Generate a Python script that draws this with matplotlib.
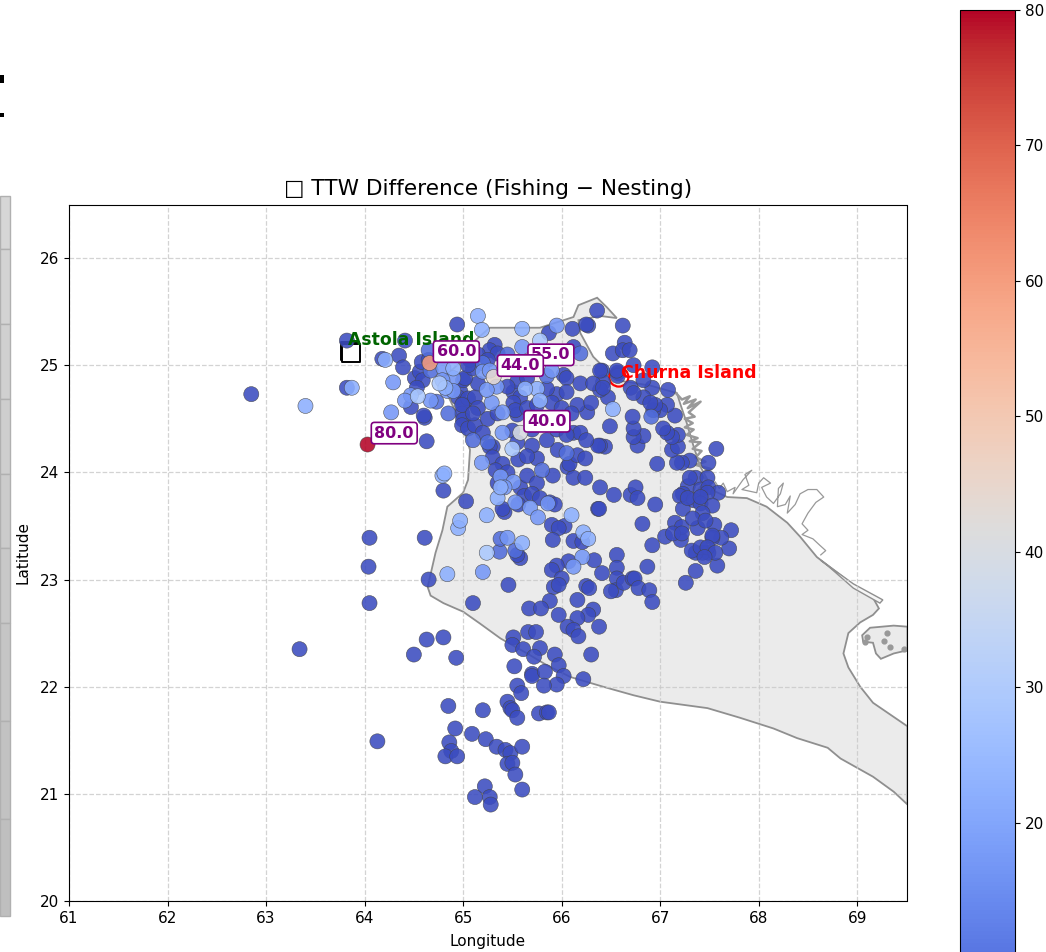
import numpy as np
import matplotlib
matplotlib.use("Agg")
import matplotlib.pyplot as plt
from matplotlib.patches import Polygon, Rectangle

# coastline (lon, lat)
coast = [(65.27,25.35),(65.78,25.35),(66.12,25.45),(66.17,25.56),(66.36,25.63),(66.46,25.54),(66.56,25.44),
         (66.39,25.46),(66.17,25.42),(66.19,25.30),(66.32,25.08),(66.56,24.86),(66.90,24.81),(67.17,24.74),
         (67.20,24.65),(67.27,24.46),(67.34,24.24),(67.41,24.05),(67.54,23.83),(67.68,23.77),(67.88,23.76),
         (68.08,23.68),(68.29,23.53),(68.42,23.40),(68.59,23.21),(68.76,23.09),(68.96,22.95),(69.16,22.83),
         (69.22,22.73),(69.16,22.67),(69.03,22.60),(68.91,22.50),(68.86,22.31),(68.91,22.18),(69.03,22.00),
         (69.16,21.85),(69.51,21.63),(69.51,20.90),(69.37,21.02),(69.16,21.16),(68.83,21.33),(68.70,21.43),
         (68.39,21.52),(68.15,21.61),(67.81,21.71),(67.48,21.80),(67.00,21.86),(66.73,21.92),(66.42,22.00),
         (66.09,22.09),(65.85,22.20),(65.65,22.31),(65.38,22.45),(65.17,22.59),(65.00,22.70),(64.80,22.78),
         (64.67,22.85),(64.64,22.93),(64.72,23.25),(64.79,23.46),(64.84,23.68),(65.00,23.81),(65.05,23.93),
         (65.07,24.21),(64.99,24.44),(64.87,24.67),(64.77,24.86),(65.00,25.05),(65.07,25.19)]
island = [(69.05,22.48),(69.13,22.55),(69.37,22.57),(69.51,22.56),(69.51,22.34),(69.37,22.31),(69.24,22.26),
          (69.19,22.31),(69.16,22.41),(69.06,22.42)]
island_spots = [(69.10,22.46),(69.08,22.42),(69.30,22.50),(69.27,22.43),(69.33,22.37),(69.47,22.35)]
lagoon = [(68.63,23.18),(68.96,22.96),(69.26,22.81),(69.23,22.78),(68.96,22.92),(68.70,23.13)]
creek_north = [(67.16,24.74),(67.22,24.68),(67.30,24.71),(67.24,24.64),(67.36,24.68),(67.28,24.60),(67.41,24.66),
               (67.29,24.56),(67.35,24.52),(67.25,24.50),(67.33,24.46),(67.25,24.42),(67.34,24.40),(67.27,24.35),
               (67.38,24.32),(67.30,24.29),(67.41,24.28),(67.33,24.22),(67.42,24.20),(67.36,24.14),(67.46,24.10),
               (67.36,24.07),(67.52,24.03),(67.41,23.99),(67.47,23.93),(67.38,23.83)]
creek_east = [(67.56,23.91),(67.60,23.85),(67.64,23.90),(67.68,23.82),(67.76,23.86),(67.74,23.80),(67.84,23.93),
              (67.93,24.02),(67.86,23.98),(67.90,23.88),(67.83,23.84),(67.98,23.81),(68.00,23.90),(68.05,23.95),
              (68.12,23.90),(68.03,23.86),(68.08,23.77),(68.15,23.71),(68.22,23.80),(68.25,23.90),(68.20,23.85),
              (68.19,23.68),(68.27,23.70),(68.32,23.78),(68.29,23.62),(68.37,23.70),(68.42,23.80),(68.50,23.84),
              (68.59,23.84),(68.66,23.77),(68.58,23.72),(68.50,23.62),(68.44,23.52),(68.50,23.46),(68.44,23.42),
              (68.55,23.38),(68.62,23.32),(68.68,23.27),(68.63,23.23)]

# TTW difference bands
diff_deep = 3
pts_deep = [(64.61,23.39),(65.03,23.73),(64.80,23.83),(64.65,23.00),(65.42,23.63),(65.40,23.66),(65.58,23.20),
            (65.55,23.23),(65.46,22.95),(65.10,22.78),(65.67,22.73),(65.51,22.46),(65.50,22.39),(65.66,22.51),
            (65.74,22.51),(65.61,22.35),(65.78,22.36),(65.72,22.28),(65.52,22.19),(65.70,22.12),(65.70,22.10),
            (65.83,22.14),(65.93,22.30),(65.97,22.20),(66.02,22.10),(65.95,22.02),(65.82,22.01),(66.22,22.07),
            (66.30,22.30),(65.55,22.01),(65.59,21.94),(64.85,21.82),(65.20,21.78),(65.45,21.86),(65.48,21.80),
            (65.50,21.78),(65.55,21.71),(65.77,21.75),(65.85,21.76),(65.87,21.76),(64.92,21.61),(65.09,21.56),
            (65.23,21.51),(65.34,21.44),(65.43,21.41),(65.48,21.38),(65.60,21.44),(64.86,21.48),(64.88,21.40),
            (64.82,21.35),(64.94,21.35),(65.45,21.28),(65.50,21.29),(65.53,21.18),(65.60,21.04),(65.22,21.07),
            (65.12,20.97),(65.27,20.97),(65.28,20.90),(64.63,22.44),(64.80,22.46),(64.50,22.30),(64.93,22.27),
            (63.34,22.35),(64.13,21.49),(64.05,23.39),(64.04,23.12),(64.05,22.78),(66.39,23.86),(66.53,23.79),
            (66.70,23.79),(66.75,23.86),(66.77,23.76),(66.95,23.70),(66.82,23.52),(66.37,23.66),(66.38,23.66),
            (65.90,23.51),(66.03,23.50),(65.97,23.48),(65.91,23.37),(66.12,23.36),(66.21,23.35),(66.92,23.32),
            (67.05,23.40),(66.33,23.18),(66.56,23.23),(66.07,23.17),(65.95,23.13),(65.90,23.09),(66.00,23.01),
            (65.92,22.93),(65.97,22.95),(66.41,23.06),(66.56,23.11),(66.56,23.01),(66.55,22.90),(66.50,22.89),
            (66.63,22.97),(66.72,23.01),(66.74,23.01),(66.78,22.92),(66.89,22.90),(66.92,22.79),(66.87,23.12),
            (67.26,22.97),(67.36,23.08),(66.25,22.94),(66.28,22.92),(66.16,22.81),(66.32,22.72),(66.27,22.67),
            (66.16,22.64),(66.38,22.56),(66.06,22.56),(66.12,22.53),(66.17,22.47),(65.97,22.67),(65.88,22.80),
            (65.79,22.73),(67.58,23.13),(67.70,23.29),(67.72,23.46),(67.55,23.51),(67.38,23.48),(67.62,23.39),
            (67.53,23.39),(67.53,23.41),(67.49,23.25),(67.43,23.25),(67.36,23.25),(67.32,23.27),(67.41,23.30),
            (67.48,23.30),(67.56,23.25),(67.45,23.21),(67.21,23.37),(67.15,23.53),(67.22,23.49),(67.13,23.43),
            (67.22,23.43),(67.36,23.95),(67.48,23.95),(67.28,23.87),(67.41,23.84),(67.49,23.86),(67.59,23.81),
            (67.23,23.80),(67.20,23.78),(67.34,23.74),(67.48,23.81),(67.41,23.71),(67.53,23.69),(67.23,23.66),
            (67.43,23.62),(67.33,23.57),(67.46,23.55),(67.28,23.76),(67.41,23.77),(67.30,23.95),(67.49,24.09),
            (67.57,24.22),(67.30,24.11),(67.22,24.09),(67.17,24.09),(66.97,24.08),(67.12,24.21),(67.18,24.24),
            (67.18,24.35),(67.12,24.33),(67.07,24.37),(67.03,24.41),(66.77,24.25),(66.83,24.34),(66.73,24.33),
            (66.73,24.41),(66.49,24.43),(66.44,24.24),(66.39,24.25),(66.72,24.52),(66.47,24.70),(67.15,24.53),
            (67.07,24.63),(67.08,24.77),(67.00,24.58),(66.93,24.58),(66.95,24.63),(66.92,24.79),(66.83,24.86),
            (66.92,24.98),(66.70,24.79),(66.83,24.70),(66.73,24.74),(66.90,24.65),(66.57,24.93),(66.57,24.90),
            (66.56,24.95),(66.41,24.95),(66.42,24.84),(66.39,24.77),(66.52,25.11),(66.64,25.21),(66.62,25.14),
            (66.69,25.14),(66.62,25.37),(66.73,25.00),(66.36,25.51),(64.94,25.38),(65.87,25.30),(66.11,25.34),
            (66.27,25.37),(66.25,25.38),(63.82,25.23),(64.41,25.23),(64.18,25.06),(64.35,25.09),(64.39,24.98),
            (63.82,24.79),(64.61,24.51),(64.60,24.53),(64.63,24.29),(62.85,24.73),(64.51,24.88),(64.56,24.94),
            (64.59,24.86),(64.53,24.79),(64.58,25.03),(64.65,25.05),(64.97,24.76),(64.95,24.70),(65.00,24.64),
            (65.05,24.69),(65.12,24.70),(65.00,24.86),(64.47,24.61),(64.99,24.55),(64.99,24.63),(65.00,24.49),
            (64.99,24.44),(65.05,24.41),(65.12,24.44),(65.20,24.37),(65.50,24.39),(65.55,24.28),(65.30,24.24),
            (65.27,24.24),(65.30,24.14),(65.40,24.08),(65.33,24.02),(65.56,24.12),(65.75,24.13),(65.58,23.86),
            (65.65,23.97),(65.75,23.90),(65.91,23.97),(66.06,24.05),(66.12,23.95),(66.24,23.95),(66.08,24.08),
            (66.16,24.16),(66.24,24.13),(66.37,24.25),(65.96,24.21),(66.12,24.37),(66.19,24.37),(66.26,24.56),
            (66.16,24.63),(65.95,24.73),(65.51,24.75),(65.58,24.70),(65.51,24.65),(65.55,24.54),(65.53,24.58),
            (65.65,24.60),(65.75,24.63),(65.15,24.83),(65.02,24.88),(65.32,25.19),(65.27,25.14),(65.35,25.11),
            (65.10,24.97),(65.07,25.05),(66.02,24.91),(66.05,24.88),(66.19,24.83),(66.12,25.17),(66.32,24.83),
            (66.39,24.95),(66.42,24.79),(64.90,25.10),(65.05,25.00),(65.15,25.10),(65.25,25.05),(65.55,24.85),
            (65.45,24.80),(65.65,24.88),(65.85,24.78),(65.90,24.65),(66.00,24.60),(66.05,24.75),(66.10,24.55),
            (66.30,24.65),(65.85,24.50),(65.70,24.40),(65.85,24.30),(65.95,24.40),(66.05,24.35),(65.70,24.25),
            (65.65,24.15),(65.45,24.00),(65.35,23.90),(65.62,23.78),(65.70,23.80),(65.78,23.76),(65.88,23.72),
            (65.93,23.70),(65.56,23.70),(66.25,24.30),(65.15,24.60),(65.25,24.50),(65.10,24.55),(65.35,24.55)]
diff_mid = 9
pts_mid = [(65.37,23.26),(65.38,23.38),(65.53,23.27),(64.85,24.55),(66.91,24.52),(64.65,25.14),(64.67,24.95),
           (66.19,25.11),(65.80,24.02),(66.05,24.18),(65.20,25.02),(65.10,24.30),(65.25,24.28),(64.73,24.66),
           (65.45,25.10),(65.70,25.05),(65.85,24.90)]
diff_light = 17
pts_light = [(65.20,23.07),(65.45,23.39),(66.21,23.21),(66.12,23.12),(65.40,24.37),(65.19,24.09),(65.38,23.96),
             (65.51,23.91),(65.29,24.65),(65.34,24.80),(65.24,24.77),(65.40,24.56),(65.20,24.94),(65.60,25.17),
             (65.90,24.95),(64.47,24.72),(64.41,24.67),(64.29,24.84),(64.27,24.56),(64.67,24.67),(64.80,24.97),
             (64.90,24.88),(64.79,24.86),(64.84,24.76),(64.90,24.76),(65.95,25.37),(65.42,23.86),(65.27,24.95),
             (65.53,23.72),(65.68,23.67),(65.76,23.58),(65.86,23.71)]
diff_pale = 22
pts_pale = [(64.84,23.05),(64.95,23.48),(64.97,23.55),(65.24,23.60),(65.35,23.76),(65.38,23.86),(65.60,25.34),
            (66.10,23.60),(66.22,23.44),(66.27,23.38),(65.15,25.46),(65.19,25.33),(64.21,25.05),(63.87,24.79),
            (63.40,24.62),(66.52,24.59),(64.82,24.79),(64.90,24.97),(64.79,23.97),(64.81,23.99),(65.75,24.78),
            (65.63,24.78),(65.78,24.67),(65.60,23.34)]
diff_faint = 29
pts_faint = [(65.24,23.25),(65.50,24.22),(65.78,25.23),(64.54,24.71),(64.76,24.83)]

# the few labelled stations
flag_lon = [64.03, 64.66, 65.62, 65.31, 65.58]
flag_lat = [24.26, 25.02, 24.99, 24.89, 24.37]
flag_diff = [80.0, 60.0, 55.0, 44.0, 40.0]

groups = [(pts_deep, diff_deep), (pts_mid, diff_mid), (pts_light, diff_light),
          (pts_pale, diff_pale), (pts_faint, diff_faint)]
lon = np.concatenate([[p[0] for p in g] for g, d in groups] + [flag_lon])
lat = np.concatenate([[p[1] for p in g] for g, d in groups] + [flag_lat])
diff = np.concatenate([[d] * len(g) for g, d in groups] + [flag_diff])

W, H = 1046, 952
fig = plt.figure(figsize=(W / 100, H / 100), dpi=100)
ax = fig.add_axes([69 / W, (H - 901) / H, (906.5 - 69) / W, (901 - 204.5) / H])

# pieces of the neighbouring panel cut off at the left edge
rows = [196, 249, 324, 399, 474, 548, 623, 721, 819, 916]
for i in range(len(rows) - 1):
    shade = 0.84 - 0.09 * i / 8
    fig.add_artist(Rectangle((0, (H - rows[i + 1]) / H), 10 / W, (rows[i + 1] - rows[i]) / H,
                             transform=fig.transFigure, fc=(shade, shade, shade), ec="#b0b0b0", lw=1))
for top, bottom in [(75, 83), (113, 117)]:
    fig.add_artist(Rectangle((0, (H - bottom) / H), 4 / W, (bottom - top) / H,
                             transform=fig.transFigure, fc="black", ec="none"))

ax.add_patch(Polygon(coast, closed=True, fc="#ebebeb", ec="#8f8f8f", lw=1.3, zorder=0.3))
ax.add_patch(Polygon(island, closed=True, fc="#ebebeb", ec="#8f8f8f", lw=1.3, zorder=0.3))
ax.add_patch(Polygon(lagoon, closed=True, fc="#f6f6f6", ec="#8f8f8f", lw=1.0, zorder=0.3))
ax.plot(*zip(*creek_north), color="#999999", lw=1.8, zorder=1)
ax.plot(*zip(*creek_east), color="#999999", lw=0.9, zorder=1)
ax.scatter(*zip(*island_spots), s=12, color="#999999", zorder=1)

sc = ax.scatter(lon, lat, c=diff, cmap="coolwarm", vmin=3, vmax=80, s=118, alpha=0.88,
                edgecolors="#444444", linewidths=0.4, zorder=3)

ax.scatter([63.85, 63.86], [25.13, 25.11], marker="s", s=170, facecolors="white", edgecolors="black",
           linewidths=1.4, zorder=2.5)
ax.scatter([66.58], [24.89], marker="o", s=190, facecolors="none", edgecolors="red", linewidths=1.6, zorder=2.5)
ax.text(63.83, 25.19, "Astola Island", color="darkgreen", fontsize=12.4, fontweight="bold", zorder=5)
ax.text(66.60, 24.88, "Churna Island", color="red", fontsize=12.5, fontweight="bold", zorder=5)

for x, y, v in zip(flag_lon, flag_lat, flag_diff):
    ax.annotate(f"{v:.1f}", (x, y), xytext=(5, 5), textcoords="offset points", color="purple",
                fontsize=11.5, fontweight="bold", zorder=6,
                bbox=dict(boxstyle="round,pad=0.2", fc="white", ec="purple", lw=1.2))

ax.set_xlim(61, 69.5)
ax.set_ylim(20, 26.5)
ax.set_xticks(range(61, 70))
ax.set_yticks(range(20, 27))
ax.tick_params(labelsize=11)
ax.grid(True, ls="--", color="#c8c8c8", lw=0.9, alpha=0.8)
ax.set_axisbelow(True)
ax.set_title("\u25a1 TTW Difference (Fishing \u2212 Nesting)", fontsize=15.6, pad=7)
ax.set_xlabel("Longitude", fontsize=11, labelpad=6)
ax.set_ylabel("Latitude", fontsize=11, labelpad=7)

# colourbar runs past the bottom of the crop
cax = fig.add_axes([960 / W, (H - 1053) / H, 55 / W, (1053 - 10) / H])
cb = fig.colorbar(sc, cax=cax)
cb.solids.set_alpha(1)
cb.set_ticks([20, 30, 40, 50, 60, 70, 80])
cb.ax.tick_params(labelsize=11)

fig.savefig("out.png", dpi=100)
